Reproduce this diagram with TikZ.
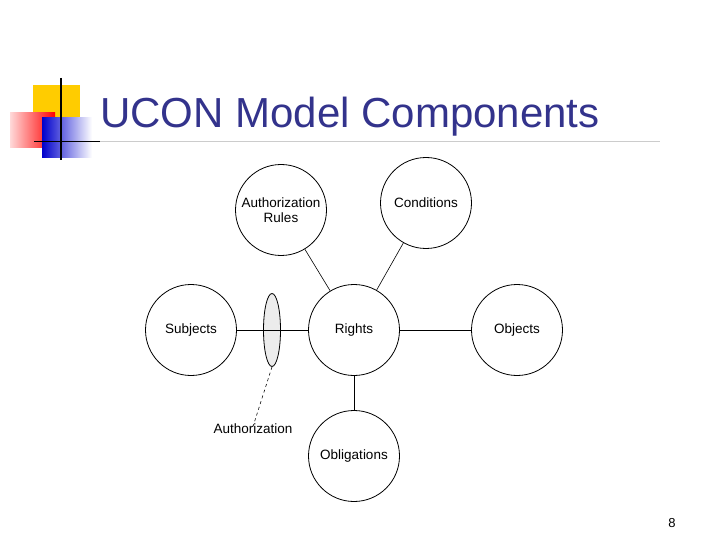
\documentclass[tikz,border=0pt]{standalone}
\usepackage{fontspec}
\setmainfont{Liberation Sans}
\usetikzlibrary{positioning, shapes.geometric}
\definecolor{titleblue}{RGB}{51,51,140}
\definecolor{logogold}{RGB}{255,204,0}
\begin{document}
\begin{tikzpicture}[x=1pt,y=-1pt,
  comp/.style={circle, draw, thick, minimum size=91pt, inner sep=1pt, align=center, font=\fontsize{13.5}{15}\selectfont},
  link/.style={semithick}]
\useasboundingbox (0,0) rectangle (720,540);

% Logo
\fill[logogold] (33,85) rectangle (80,120);
\shade[left color=red!15, right color=red] (10,113) rectangle (55,148);
\shade[left color=blue!80!black, right color=white] (42,118) rectangle (92,158);
\draw[very thick] (61,78) -- (61,160);
\draw[thick] (34,141) -- (100,141);
\draw[gray!40, thick] (100,141) -- (660,141);

% Title
\node[anchor=base west, text=titleblue, font=\fontsize{42}{46}\selectfont, inner sep=0] (title) at (100,128) {UCON Model Components};

% Components
\node[comp] (rules) at (281,210) {Authorization\\Rules};
\node[comp] (cond) at (426,203) {Conditions};
\node[comp] (subj) at (191,330) {Subjects};
\node[comp] (rights) at (354,330) {Rights};
\node[comp] (obj) at (517,330) {Objects};
\node[comp] (oblig) at (354,456) {Obligations};

% Connections
\draw[link] (rights) -- (obj);
\draw[link] (rights) -- (oblig);
\draw[link] (rules) -- (rights);
\draw[link] (cond) -- (rights);

% Authorization
\node[ellipse, draw, thick, fill=gray!15, minimum width=17pt, minimum height=73pt, inner sep=0] (auth) at (272,330) {};
\draw[link] (subj.east) -- (rights.west);
\node[font=\fontsize{13.5}{15}\selectfont] (authlbl) at (253,429) {Authorization};
\draw[link, dashed] (auth.south) -- ([yshift=-6pt]authlbl.north);

% Page number
\node[font=\fontsize{13}{15}\selectfont] (page) at (672,523) {8};
\end{tikzpicture}
\end{document}
